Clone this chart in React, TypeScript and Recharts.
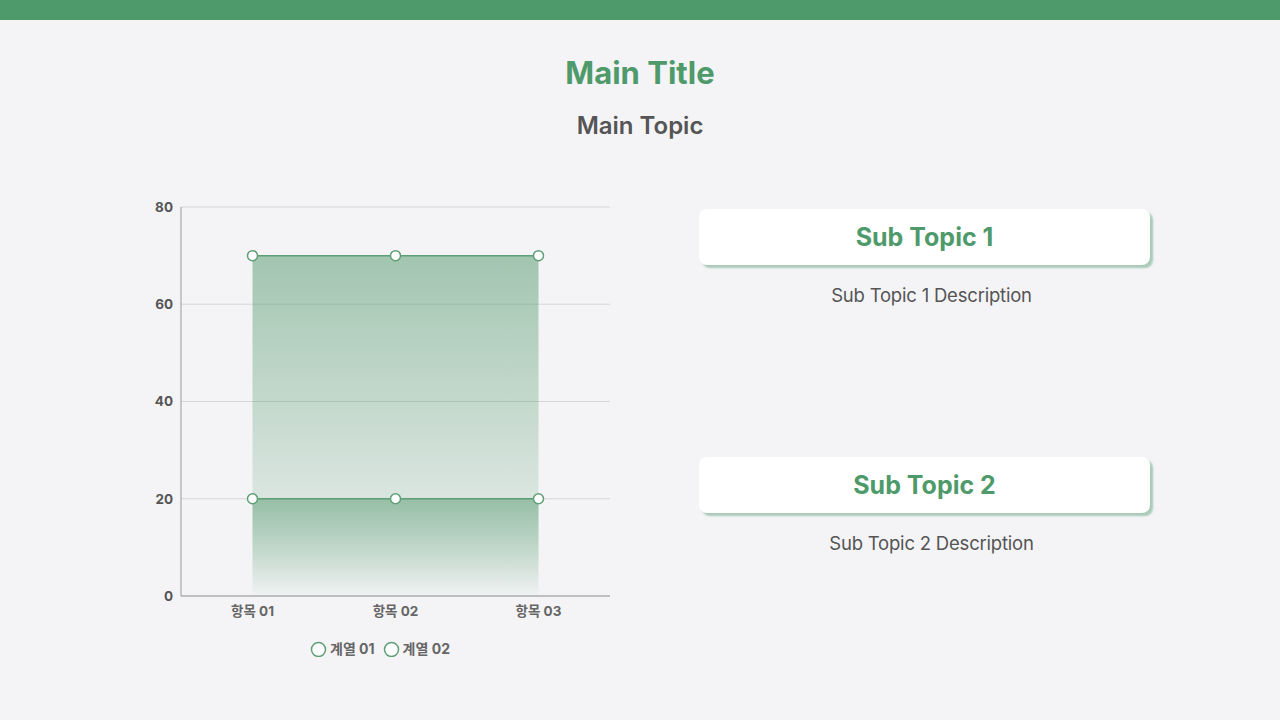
import { AreaChart, Area, XAxis, YAxis, CartesianGrid, Legend } from 'recharts';

const categories = ['항목 01', '항목 02', '항목 03'];
const series01 = [70, 70, 70];
const series02 = [20, 20, 20];
const seriesNames = ['계열 01', '계열 02'];
const yTicks = [0, 20, 40, 60, 80];

const data = categories.map((name, i) => ({ name, s1: series01[i], s2: series02[i] }));

const GREEN = '#4e9a6a';
const LINE = '#5f9f76';
const FONT = 'Inter, "Noto Sans CJK KR", sans-serif';

function LegendContent() {
  return (
    <div style={{ display: 'flex', justifyContent: 'center', alignItems: 'center', gap: 8, height: 22, paddingLeft: 20 }}>
      {seriesNames.map((n) => (
        <div key={n} style={{ display: 'flex', alignItems: 'center', gap: 3 }}>
          <svg width={17} height={17}>
            <circle cx={8.5} cy={9.5} r={7} fill="#fff" stroke={LINE} strokeWidth={1.5} />
          </svg>
          <span style={{ fontSize: 14, fontWeight: 700, color: '#666', fontFamily: FONT }}>{n}</span>
        </div>
      ))}
    </div>
  );
}

function Card({ top, title, desc }: { top: number; title: string; desc: string }) {
  return (
    <>
      <div
        style={{
          position: 'absolute',
          left: 699,
          top,
          width: 451,
          height: 56,
          background: '#fff',
          borderRadius: 8,
          boxShadow: '3px 3px 2px rgba(78,154,106,0.45)',
          display: 'flex',
          alignItems: 'center',
          justifyContent: 'center',
          fontSize: 25,
          fontWeight: 700,
          color: GREEN,
        }}
      >
        {title}
      </div>
      <div
        style={{
          position: 'absolute',
          left: 699,
          top: top + 75,
          width: 465,
          textAlign: 'center',
          fontSize: 18.5,
          color: '#555',
          letterSpacing: -0.2,
        }}
      >
        {desc}
      </div>
    </>
  );
}

export default function App() {
  return (
    <div
      style={{
        position: 'absolute',
        left: 0,
        top: 0,
        width: 1280,
        height: 720,
        background: '#f4f4f6',
        fontFamily: FONT,
        overflow: 'hidden',
      }}
    >
      <div style={{ position: 'absolute', left: 0, top: 0, width: 1280, height: 20, background: GREEN }} />
      <div style={{ position: 'absolute', top: 54, width: 1280, textAlign: 'center', fontSize: 31, fontWeight: 700, color: GREEN }}>
        Main Title
      </div>
      <div style={{ position: 'absolute', top: 111, width: 1280, textAlign: 'center', fontSize: 24, fontWeight: 600, color: '#555' }}>
        Main Topic
      </div>

      <div style={{ position: 'absolute', left: 130, top: 195 }}>
        <AreaChart width={490} height={480} data={data} margin={{ top: 12, right: 10, left: 0, bottom: 16 }}>
          <defs>
            <linearGradient id="g1" x1="0" y1="0" x2="0" y2="1">
              <stop offset="0%" stopColor={LINE} stopOpacity={0.55} />
              <stop offset="100%" stopColor={LINE} stopOpacity={0.02} />
            </linearGradient>
            <linearGradient id="g2" x1="0" y1="0" x2="0" y2="1">
              <stop offset="0%" stopColor={LINE} stopOpacity={0.55} />
              <stop offset="100%" stopColor={LINE} stopOpacity={0} />
            </linearGradient>
          </defs>
          <CartesianGrid vertical={false} stroke="#d6d6d8" />
          <XAxis
            dataKey="name"
            height={41}
            padding={{ left: 71.5, right: 71.5 }}
            tickLine={false}
            stroke="#999"
            dy={2}
            tick={{ fill: '#666', fontSize: 13.5, fontWeight: 700, fontFamily: FONT }}
          />
          <YAxis
            width={51}
            domain={[0, 80]}
            ticks={yTicks}
            tickLine={false}
            stroke="#999"
            tick={{ fill: '#555', fontSize: 13.5, fontWeight: 700, fontFamily: FONT }}
          />
          <Legend verticalAlign="bottom" height={22} content={<LegendContent />} />
          <Area
            type="linear"
            dataKey="s1"
            name={seriesNames[0]}
            stroke={LINE}
            strokeWidth={1.5}
            fill="url(#g1)"
            fillOpacity={1}
            dot={{ r: 5, fill: '#fff', stroke: LINE, strokeWidth: 1.5 }}
            isAnimationActive={false}
          />
          <Area
            type="linear"
            dataKey="s2"
            name={seriesNames[1]}
            stroke={LINE}
            strokeWidth={1.5}
            fill="url(#g2)"
            fillOpacity={1}
            dot={{ r: 5, fill: '#fff', stroke: LINE, strokeWidth: 1.5 }}
            isAnimationActive={false}
          />
        </AreaChart>
      </div>

      <Card top={209} title="Sub Topic 1" desc="Sub Topic 1 Description" />
      <Card top={457} title="Sub Topic 2" desc="Sub Topic 2 Description" />
    </div>
  );
}
